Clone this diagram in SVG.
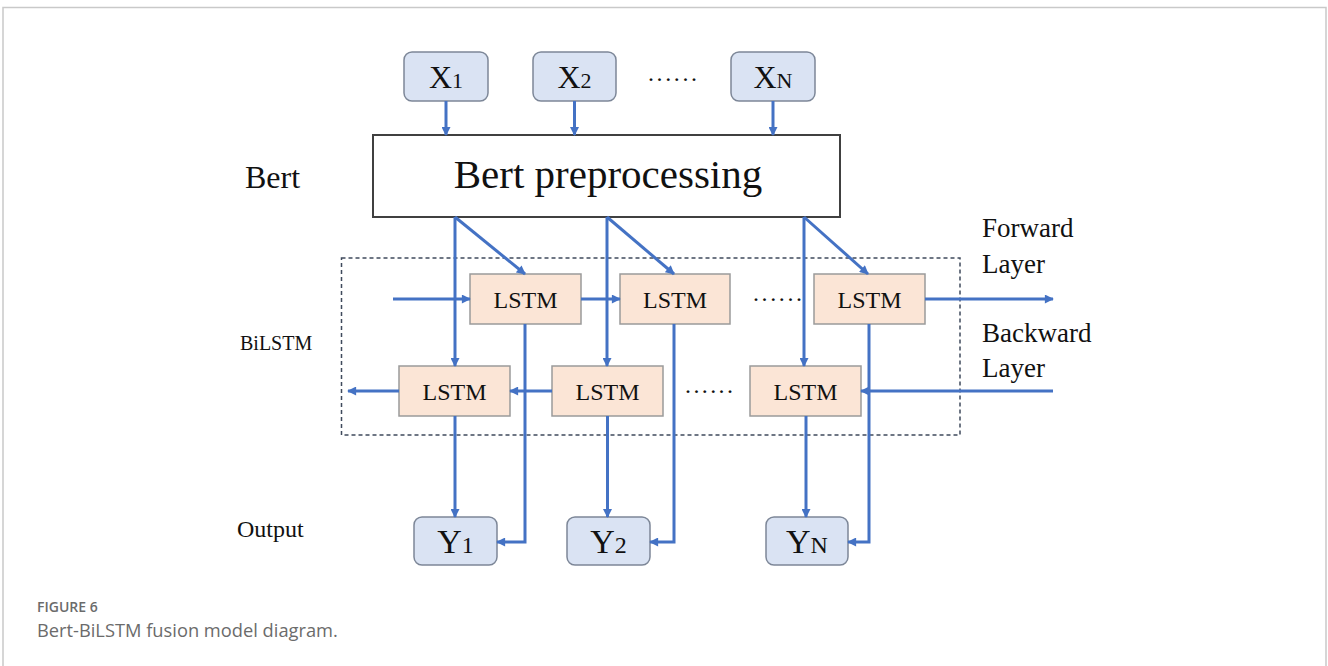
<svg xmlns="http://www.w3.org/2000/svg" width="1328" height="666" viewBox="0 0 1328 666">
  <defs>
    <marker id="arrow" viewBox="0 0 10 10" refX="9" refY="5" markerWidth="10" markerHeight="9" markerUnits="userSpaceOnUse" orient="auto">
      <path d="M0,0 L10,5 L0,10 Z" fill="#4472c4"/>
    </marker>
    <style>
      .serif { font-family: "Liberation Serif", "Times New Roman", serif; fill: #111; }
      .io { fill: #dae3f3; stroke: #7d8798; stroke-width: 1.5; }
      .lstm { fill: #fbe5d6; stroke: #9a9a9a; stroke-width: 1.5; }
      .conn { fill: none; stroke: #4472c4; stroke-width: 3; }
      .arr { marker-end: url(#arrow); }
      .cap { font-family: "Open Sans", "Liberation Sans", sans-serif; fill: #6b6b6b; }
    </style>
  </defs>

  <rect width="1328" height="666" fill="#ffffff"/>
  <!-- card frame -->
  <path d="M3,680 L3,7.5 L1326,7.5 L1326,680" fill="none" stroke="#c9c9c9" stroke-width="1.5"/>

  <!-- side labels -->
  <text class="serif" x="245" y="188" font-size="32">Bert</text>
  <text class="serif" x="240" y="350" font-size="20">BiLSTM</text>
  <text class="serif" x="237" y="537" font-size="24">Output</text>
  <text class="serif" x="982" y="237" font-size="27">Forward</text>
  <text class="serif" x="982" y="273" font-size="27">Layer</text>
  <text class="serif" x="982" y="342" font-size="27">Backward</text>
  <text class="serif" x="982" y="377" font-size="27">Layer</text>

  <!-- BiLSTM region -->
  <rect x="341.5" y="258" width="618.5" height="177" fill="none" stroke="#3f4a5c" stroke-width="1.5" stroke-dasharray="4 3"/>

  <!-- inputs -->
  <g id="x1">
    <rect class="io" x="404" y="52" width="84" height="49" rx="8"/>
    <text class="serif" x="446" y="88" text-anchor="middle"><tspan font-size="32">X</tspan><tspan font-size="22">1</tspan></text>
  </g>
  <g id="x2">
    <rect class="io" x="533" y="52" width="83" height="49" rx="8"/>
    <text class="serif" x="574.5" y="88" text-anchor="middle"><tspan font-size="32">X</tspan><tspan font-size="22">2</tspan></text>
  </g>
  <text class="serif" x="648" y="81" font-size="24" textLength="49">......</text>
  <g id="xn">
    <rect class="io" x="731" y="52" width="84" height="49" rx="8"/>
    <text class="serif" x="773" y="88" text-anchor="middle"><tspan font-size="32">X</tspan><tspan font-size="22">N</tspan></text>
  </g>

  <!-- Bert -->
  <g id="bert">
    <rect x="373" y="135" width="467" height="82" fill="#ffffff" stroke="#404040" stroke-width="2"/>
    <text class="serif" x="608" y="188" font-size="41" text-anchor="middle">Bert preprocessing</text>
  </g>

  <!-- forward LSTM row -->
  <g id="f1">
    <rect class="lstm" x="470" y="274" width="111" height="50"/>
    <text class="serif" x="525.5" y="308" font-size="24" text-anchor="middle">LSTM</text>
  </g>
  <g id="f2">
    <rect class="lstm" x="620" y="274" width="110" height="50"/>
    <text class="serif" x="675" y="308" font-size="24" text-anchor="middle">LSTM</text>
  </g>
  <text class="serif" x="753" y="301" font-size="24" textLength="49">......</text>
  <g id="f3">
    <rect class="lstm" x="814" y="274" width="111" height="50"/>
    <text class="serif" x="869.5" y="308" font-size="24" text-anchor="middle">LSTM</text>
  </g>

  <!-- backward LSTM row -->
  <g id="b1">
    <rect class="lstm" x="399" y="366" width="111" height="50"/>
    <text class="serif" x="454.5" y="400" font-size="24" text-anchor="middle">LSTM</text>
  </g>
  <g id="b2">
    <rect class="lstm" x="552" y="366" width="111" height="50"/>
    <text class="serif" x="607.5" y="400" font-size="24" text-anchor="middle">LSTM</text>
  </g>
  <text class="serif" x="685" y="393" font-size="24" textLength="48">......</text>
  <g id="b3">
    <rect class="lstm" x="750" y="366" width="111" height="50"/>
    <text class="serif" x="805.5" y="400" font-size="24" text-anchor="middle">LSTM</text>
  </g>

  <!-- outputs -->
  <g id="y1">
    <rect class="io" x="414" y="517" width="83" height="48" rx="8"/>
    <text class="serif" x="455.5" y="553" text-anchor="middle"><tspan font-size="34">Y</tspan><tspan font-size="24">1</tspan></text>
  </g>
  <g id="y2">
    <rect class="io" x="567" y="517" width="83" height="48" rx="8"/>
    <text class="serif" x="608.5" y="553" text-anchor="middle"><tspan font-size="34">Y</tspan><tspan font-size="24">2</tspan></text>
  </g>
  <g id="yn">
    <rect class="io" x="766" y="517" width="82" height="48" rx="8"/>
    <text class="serif" x="807" y="553" text-anchor="middle"><tspan font-size="34">Y</tspan><tspan font-size="24">N</tspan></text>
  </g>

  <!-- connectors -->
  <g id="connectors">
    <path class="conn arr" d="M446,101 L446,135"/>
    <path class="conn arr" d="M574.5,101 L574.5,135"/>
    <path class="conn arr" d="M773,101 L773,135"/>

    <path class="conn arr" d="M455,217 L455,366"/>
    <path class="conn arr" d="M455,217 L525,274"/>
    <path class="conn arr" d="M607,217 L607,366"/>
    <path class="conn arr" d="M607,217 L674,274"/>
    <path class="conn arr" d="M804,217 L804,366"/>
    <path class="conn arr" d="M804,217 L868,274"/>

    <path class="conn arr" d="M393,299 L470,299"/>
    <path class="conn arr" d="M581,299 L620,299"/>
    <path class="conn arr" d="M925,299 L1053,299"/>

    <path class="conn arr" d="M1053,391 L861,391"/>
    <path class="conn arr" d="M552,391 L510,391"/>
    <path class="conn arr" d="M399,391 L348,391"/>

    <path class="conn arr" d="M455,416 L455,517"/>
    <path class="conn arr" d="M525,324 L525,542 L497,542"/>
    <path class="conn arr" d="M607.5,416 L607.5,517"/>
    <path class="conn arr" d="M674,324 L674,542 L650,542"/>
    <path class="conn arr" d="M806,416 L806,517"/>
    <path class="conn arr" d="M869,324 L869,542 L848,542"/>
  </g>

  <!-- caption -->
  <text class="cap" x="37" y="612" font-size="14" font-weight="600" fill="#777">FIGURE 6</text>
  <text class="cap" x="37" y="637" font-size="18.3">Bert-BiLSTM fusion model diagram.</text>
</svg>
